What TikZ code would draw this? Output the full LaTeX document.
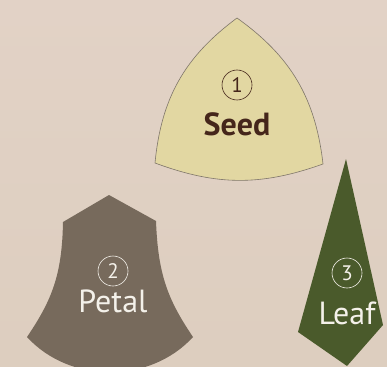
\documentclass[tikz,border=0pt]{standalone}
\usepackage{fontspec}
\setmainfont{PT Sans}
\definecolor{paper}{HTML}{DDCEBF}
\definecolor{papertop}{HTML}{E2D2C6}
\definecolor{seedfill}{HTML}{E2D7A2}
\definecolor{seedline}{HTML}{7F766A}
\definecolor{seedink}{HTML}{45261B}
\definecolor{petalfill}{HTML}{776A5C}
\definecolor{leaffill}{HTML}{4A5A2B}
\definecolor{light}{HTML}{F4F1EA}
\tikzset{
  num/.style={circle,draw,line width=0.6pt,inner sep=0pt,minimum size=30pt,
    font=\fontsize{21}{21}\selectfont},
  cim/.style={inner sep=0pt,font=\fontsize{32}{32}\selectfont},
}

\begin{document}
\begin{tikzpicture}[x=1pt,y=-1pt]
  \shade[top color=papertop,bottom color=paper] (0,0) rectangle (387,366);
  \useasboundingbox (0,0) rectangle (387,366);
  % seed
  \coordinate (st) at (237,18);
  \coordinate (sl) at (155,163);
  \coordinate (sr) at (323,164);
  \filldraw[fill=seedfill,draw=seedline,line width=0.6pt]
    (st) to[bend right=24] (sl) to[bend right=20] (sr) to[bend right=24] (st) -- cycle;
  \node[num,draw=seedink,text=seedink] (n1) at (237,85) {1};
  \node[cim,text=seedink,font=\fontsize{32}{32}\selectfont\bfseries] (seed) at (237,124) {Seed};
  % petal
  \coordinate (pt) at (109,195);
  \coordinate (pr) at (156,221);
  \coordinate (prb) at (193,337);
  \coordinate (plb) at (27,337);
  \coordinate (pl) at (63,222);
  \fill[petalfill] (pt) -- (pr) .. controls (158,275) and (168,300) .. (prb)
    .. controls (150,384) and (70,384) .. (plb)
    .. controls (52,300) and (62,275) .. (pl) -- cycle;
  \node[num,draw=light,text=light] (n2) at (113,271) {2};
  \node[cim,text=light] (petal) at (113,301) {Petal};
  % leaf
  \coordinate (lt) at (346,159);
  \coordinate (lr) at (383,325);
  \coordinate (lb) at (347,366);
  \coordinate (ll) at (298,332);
  \fill[leaffill] (lt) -- (lr) -- (lb) -- (ll) -- cycle;
  \node[num,draw=light,text=light] (n3) at (347,273) {3};
  \node[cim,text=light] (leaf) at (347,313) {Leaf};
\end{tikzpicture}
\end{document}
